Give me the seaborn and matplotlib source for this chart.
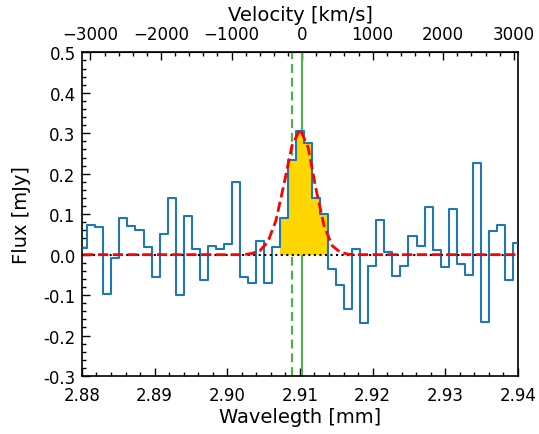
import numpy as np
import matplotlib
matplotlib.use("Agg")
import matplotlib.pyplot as plt
from matplotlib.ticker import MultipleLocator, FixedLocator, FormatStrFormatter
import seaborn as sns

# ---- data ----
first_edge = 2.880739      # mm, first full channel edge
chan_width = 0.0011049     # mm
n_chan = 55
flux = [0.017, 0.073, 0.068, -0.097, -0.008, 0.091, 0.070, 0.060, 0.020, -0.056,
        0.052, 0.141, -0.099, 0.095, 0.015, -0.062, 0.022, 0.015, 0.027, 0.180,
        -0.056, -0.070, 0.034, -0.069, 0.019, 0.090, 0.235, 0.306, 0.276, 0.140,
        0.101, -0.036, -0.075, -0.135, 0.015, -0.170, -0.029, 0.085, 0.007, -0.052,
        -0.027, 0.045, 0.022, 0.119, 0.012, -0.031, 0.113, -0.024, -0.051, 0.227,
        -0.166, 0.058, 0.073, -0.062, 0.029]
model = [0.0] * 21 + [0.003, 0.010, 0.032, 0.085, 0.175, 0.270, 0.310, 0.265,
                      0.160, 0.070, 0.022, 0.006, 0.001] + [0.0] * 21
fill_first, fill_last = 25, 30     # channels shaded as the line
lam0 = 2.9103      # mm, systemic (solid green)
lam_alt = 2.9089   # mm, dashed green
c_kms = 299792.458
vel_ticks = [-3000, -2000, -1000, 0, 1000, 2000, 3000]

wave = first_edge + (np.arange(n_chan) - 0.5) * chan_width
flux = np.array(flux)
model = np.array(model)

sns.set_style("ticks")
plt.rcParams["font.family"] = ["DejaVu Sans"]
for k in ["text.color", "axes.labelcolor", "xtick.color", "ytick.color",
          "axes.edgecolor"]:
    plt.rcParams[k] = "black"

fig = plt.figure(figsize=(5.39, 4.35), dpi=100)
ax = fig.add_axes([0.152, 0.1333, 0.809, 0.744])

# green markers
ax.axvline(lam0, color="#55b055", lw=1.6, zorder=1)
ax.axvline(lam_alt, color="#55b055", lw=1.6, ls=(0, (4, 2.2)), zorder=1)

# shaded line channels
edges = np.append(wave[fill_first:fill_last + 1] - chan_width / 2,
                  wave[fill_last] + chan_width / 2)
fvals = np.append(flux[fill_first:fill_last + 1], flux[fill_last])
ax.fill_between(edges, 0, fvals, step="post", color="#FFD700", lw=0, zorder=2)

# spectrum
sns.lineplot(x=wave, y=flux, ax=ax, drawstyle="steps-mid", color="#1f77b4",
             lw=1.5, estimator=None, zorder=3)
ax.axhline(0, color="black", ls=":", lw=1.5, zorder=4)
sns.lineplot(x=wave, y=model, ax=ax, color="red", lw=2, ls="--",
             estimator=None, zorder=5)

ax.set_xlim(2.88, 2.94)
ax.set_ylim(-0.3, 0.5)
ax.xaxis.set_major_locator(MultipleLocator(0.01))
ax.xaxis.set_minor_locator(MultipleLocator(0.002))
ax.xaxis.set_major_formatter(FormatStrFormatter("%.2f"))
ax.yaxis.set_major_locator(MultipleLocator(0.1))
ax.yaxis.set_minor_locator(MultipleLocator(0.02))
ax.yaxis.set_major_formatter(FormatStrFormatter("%.1f"))
ax.tick_params(which="both", direction="in", labelsize=12, top=False, right=False)
ax.tick_params(which="major", length=6, width=1)
ax.tick_params(which="minor", length=3, width=1)
ax.tick_params(axis="x", which="major", pad=7)
ax.tick_params(axis="y", which="major", pad=4.5)
for s in ax.spines.values():
    s.set_visible(True)
    s.set_linewidth(1.2)
    s.set_color("black")

ax.set_xlabel("Wavelegth [mm]", fontsize=14, labelpad=2)
ax.set_ylabel("Flux [mJy]", fontsize=14, labelpad=9)

sec = ax.secondary_xaxis("top", functions=(lambda w: (w / lam0 - 1) * c_kms,
                                           lambda v: lam0 * (1 + v / c_kms)))
sec.xaxis.set_major_locator(FixedLocator(vel_ticks))
sec.xaxis.set_minor_locator(MultipleLocator(200))
sec.tick_params(which="both", direction="in", labelsize=12)
sec.tick_params(which="major", length=6, width=1, pad=7)
sec.tick_params(which="minor", length=3, width=1)
sec.set_xlabel("Velocity [km/s]", fontsize=14, labelpad=3.5)

fig.savefig("out.png", dpi=100)
